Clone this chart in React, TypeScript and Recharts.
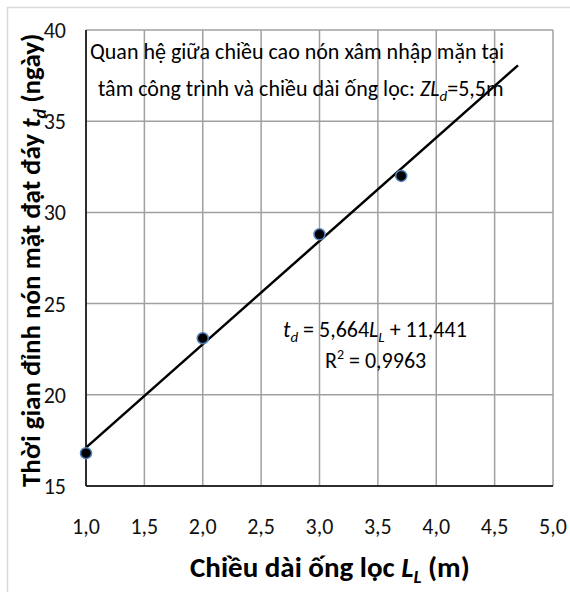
import React from 'react';
import { ComposedChart, Scatter, XAxis, YAxis, CartesianGrid, ReferenceLine, Customized } from 'recharts';

const lengths = [1.0, 2.0, 3.0, 3.7];
const times = [16.8, 23.1, 28.8, 32.0];
const xTicks = [1.0, 1.5, 2.0, 2.5, 3.0, 3.5, 4.0, 4.5, 5.0];
const yTicks = [15, 20, 25, 30, 35, 40];
const trendSlope = 5.664;
const trendIntercept = 11.441;
const trendRange = [1.0, 4.7];

const points = lengths.map((x, i) => ({ x, y: times[i] }));
const trendSegment = trendRange.map((x) => ({ x, y: trendSlope * x + trendIntercept }));

const FONT = 'Carlito, Lato, "Open Sans", sans-serif';
const fmt = (v: number) => v.toFixed(1).replace('.', ',');

const Dot = (props: any) => {
  const { cx, cy } = props;
  if (cx == null || cy == null) return null;
  return <circle cx={cx} cy={cy} r={5.5} fill="#000" stroke="#4f81bd" strokeWidth={1.5} />;
};

const XTick = (props: any) => {
  const { x, y, payload } = props;
  const s = fmt(payload.value);
  return (
    <text x={x} y={y + 48} textAnchor="middle" fontFamily={FONT} fontSize={22} fill="#111">{s}</text>
  );
};

const YTick = (props: any) => {
  const { x, y, payload } = props;
  const s = String(payload.value);
  return (
    <text x={x} y={y + 8} textAnchor="end" fontFamily={FONT} fontSize={22} fill="#111">{s}</text>
  );
};

const Texts = () => (
  <g fontFamily={FONT} fill="#000">
    <rect x={7.5} y={7.5} width={600} height={600} fill="none" stroke="#d9d9d9" strokeWidth={1.5} />
    <text x={90} y={59} fontSize={22}>Quan hệ giữa chiều cao nón xâm nhập mặn tại</text>
    <text x={98} y={96} fontSize={22}>
      tâm công trình và chiều dài ống lọc: <tspan fontStyle="italic">ZL</tspan>
      <tspan fontStyle="italic" fontSize={15} dy={5}>d</tspan>
      <tspan dy={-5}>=5,5m</tspan>
    </text>
    <text x={283} y={337} fontSize={22}>
      <tspan fontStyle="italic">t</tspan>
      <tspan fontStyle="italic" fontSize={15} dy={5}>d</tspan>
      <tspan dy={-5}> = 5,664</tspan>
      <tspan fontStyle="italic">L</tspan>
      <tspan fontStyle="italic" fontSize={15} dy={5}>L</tspan>
      <tspan dy={-5}> + 11,441</tspan>
    </text>
    <text x={325} y={368} fontSize={22}>
      R<tspan fontSize={14} dy={-9}>2</tspan><tspan dy={9}> = 0,9963</tspan>
    </text>
    <text x={190} y={577} fontSize={29} fontWeight="bold">
      Chiều dài ống lọc <tspan fontStyle="italic">L</tspan>
      <tspan fontStyle="italic" fontSize={19} dy={6}>L</tspan>
      <tspan dy={-6}> (m)</tspan>
    </text>
    <text x={0} y={0} fontSize={27} fontWeight="bold" transform="translate(40,487) rotate(-90)">
      Thời gian đỉnh nón mặt đạt đáy <tspan fontStyle="italic">t</tspan>
      <tspan fontStyle="italic" fontSize={18} dy={6}>d</tspan>
      <tspan dy={-6}> (ngày)</tspan>
    </text>
  </g>
);

export default function App() {
  return (
    <div style={{ position: 'absolute', left: 0, top: 0, width: 570, height: 592, background: '#fff' }}>
      <ComposedChart width={570} height={592} margin={{ top: 30, right: 17, bottom: 0, left: 0 }}>
        <CartesianGrid stroke="#a0a0a0" strokeWidth={1.5} horizontal vertical />
        <XAxis
          type="number"
          dataKey="x"
          domain={[1, 5]}
          ticks={xTicks}
          height={106}
          tickSize={0}
          tickMargin={0}
          axisLine={{ stroke: '#000', strokeWidth: 1.5 }}
          tickLine={false}
          tick={<XTick />}
          interval={0}
        />
        <YAxis
          type="number"
          dataKey="y"
          domain={[15, 40]}
          ticks={yTicks}
          width={86}
          tickSize={0}
          tickMargin={20}
          axisLine={{ stroke: '#000', strokeWidth: 1.5 }}
          tickLine={false}
          tick={<YTick />}
          interval={0}
        />
        <ReferenceLine segment={trendSegment} stroke="#000" strokeWidth={2.5} ifOverflow="visible" />
        <Scatter data={points} shape={<Dot />} isAnimationActive={false} />
        <Customized component={Texts} />
      </ComposedChart>
    </div>
  );
}
